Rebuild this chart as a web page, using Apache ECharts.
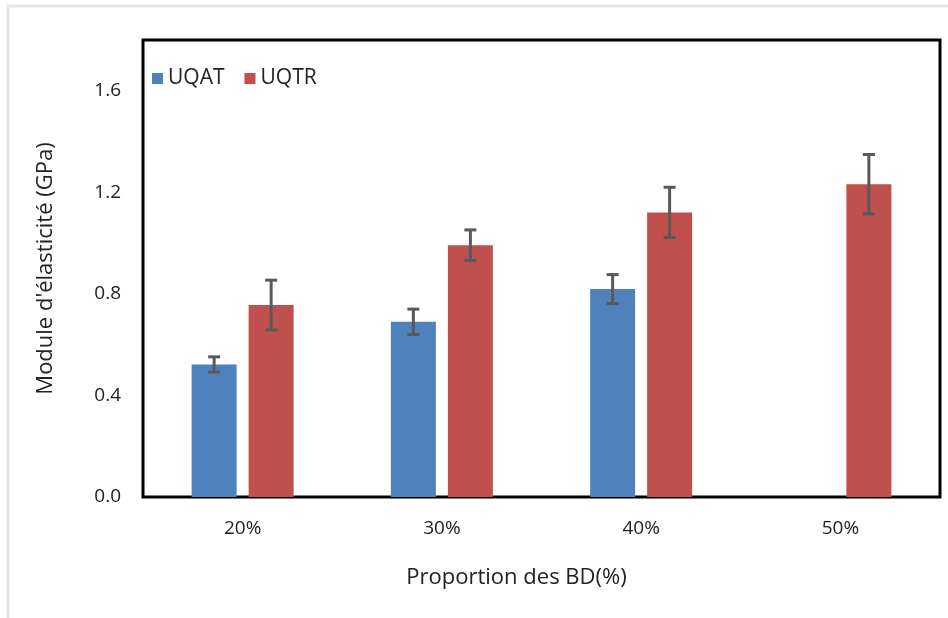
<!DOCTYPE html>
<html>
<head>
<meta charset="utf-8">
<script src="https://cdn.jsdelivr.net/npm/echarts@6/dist/echarts.min.js"></script>
<style>
  html, body { margin: 0; padding: 0; background: #fff; }
  #chart { width: 948px; height: 618px; }
</style>
</head>
<body>
<div id="chart"></div>
<script>
// Modulus of elasticity by proportion of BD, two sources
const categories = ['20%', '30%', '40%', '50%'];
const uqat = [0.522, 0.690, 0.819, null];
const uqatErr = [0.03, 0.05, 0.057, null];
const uqtr = [0.756, 0.992, 1.121, 1.232];
const uqtrErr = [0.098, 0.06, 0.099, 0.117];

const BAR_W = 45;
const BAR_GAP_PX = 12;
const SHIFT = (BAR_W + BAR_GAP_PX) / 2;

function errorData(vals, errs) {
  const out = [];
  vals.forEach((v, i) => {
    if (v != null && errs[i] != null) out.push([i, v - errs[i], v + errs[i]]);
  });
  return out;
}

function errorSeries(data, dx) {
  return {
    type: 'custom',
    data: data,
    encode: { x: 0, y: [1, 2] },
    z: 10,
    silent: true,
    renderItem: function (params, api) {
      const lo = api.coord([api.value(0), api.value(1)]);
      const hi = api.coord([api.value(0), api.value(2)]);
      const x = lo[0] + dx;
      const cap = 6;
      const style = { stroke: '#595959', lineWidth: 3 };
      return {
        type: 'group',
        children: [
          { type: 'line', shape: { x1: x, y1: lo[1], x2: x, y2: hi[1] }, style },
          { type: 'line', shape: { x1: x - cap, y1: lo[1], x2: x + cap, y2: lo[1] }, style },
          { type: 'line', shape: { x1: x - cap, y1: hi[1], x2: x + cap, y2: hi[1] }, style }
        ]
      };
    }
  };
}

const chart = echarts.init(document.getElementById('chart'));
const font = '"Open Sans", "Noto Sans", sans-serif';

chart.setOption({
  animation: false,
  textStyle: { fontFamily: font },
  graphic: [{
    type: 'rect',
    shape: { x: 8, y: 6, width: 1200, height: 1200 },
    style: { fill: 'none', stroke: '#e6e6e6', lineWidth: 3 },
    silent: true,
    z: -10
  }],
  grid: {
    left: 143, right: 8, top: 40, bottom: 121,
    show: true, borderColor: '#000', borderWidth: 3, backgroundColor: 'transparent'
  },
  legend: {
    left: 147, top: 63,
    itemWidth: 11, itemHeight: 11, itemGap: 20,
    icon: 'rect',
    textStyle: { fontSize: 21, color: '#222', fontFamily: font },
    data: ['UQAT', 'UQTR']
  },
  xAxis: {
    type: 'category',
    data: categories,
    axisLine: { show: false },
    axisTick: { show: false },
    axisLabel: { fontSize: 19, color: '#222', margin: 22 },
    name: 'Proportion des BD(%)',
    nameLocation: 'middle',
    nameGap: 70,
    nameTextStyle: { fontSize: 22, color: '#222', padding: [0, 50, 0, 0] }
  },
  yAxis: {
    type: 'value',
    min: 0, max: 1.8, interval: 0.4,
    axisLine: { show: false },
    axisTick: { show: false },
    splitLine: { show: false },
    axisLabel: {
      fontSize: 19, color: '#222', margin: 22,
      showMaxLabel: false,
      formatter: v => v.toFixed(1)
    },
    name: "Module d'élasticité (GPa)",
    nameLocation: 'middle',
    nameGap: 86,
    nameTextStyle: { fontSize: 22, color: '#222' }
  },
  series: [
    {
      name: 'UQAT', type: 'bar', data: uqat,
      barWidth: BAR_W, barGap: (BAR_GAP_PX / BAR_W * 100) + '%',
      itemStyle: { color: '#4F81BD' }
    },
    {
      name: 'UQTR', type: 'bar', data: uqtr,
      barWidth: BAR_W,
      itemStyle: { color: '#C0504D' }
    },
    errorSeries(errorData(uqat, uqatErr), -SHIFT),
    errorSeries(errorData(uqtr, uqtrErr), SHIFT)
  ]
});
</script>
</body>
</html>
